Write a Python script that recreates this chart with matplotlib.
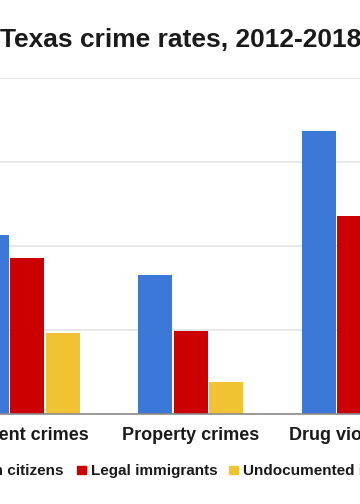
import numpy as np
import matplotlib
matplotlib.use("Agg")
import matplotlib.pyplot as plt
from matplotlib.patches import Rectangle

# -------------------------------------------------------
# DATA (rates)
# -------------------------------------------------------
categories = ["Violent crimes", "Property crimes", "Drug violations"]
series_names = ["Native-born citizens", "Legal immigrants", "Undocumented immigrants"]
citizens = [425, 330, 673]
legal = [370, 196, 470]
undocumented = [191, 76, 190]
colors = ["#3c78d8", "#cc0000", "#f1c232"]

plt.rcParams['font.family'] = ['Liberation Sans', 'DejaVu Sans']

fig = plt.figure(figsize=(3.6, 5.04), dpi=100)

# plot area runs past the edges: the picture is a crop of a wider chart
ax = fig.add_axes([0, 1 - 413.5 / 504, 1, 336 / 504])
ax.set_xlim(-27.2 / 163.5, (360 - 27.2) / 163.5)
ax.set_ylim(0, 800)

x = np.arange(len(categories))
pitch = 35.5 / 163.5
width = 34 / 163.5
for i, vals in enumerate([citizens, legal, undocumented]):
    ax.bar(x + (i - 1) * pitch, vals, width, color=colors[i], zorder=3)

ax.set_yticks([0, 200, 400, 600, 800])
ax.yaxis.grid(True, color="#e4e4e4", linewidth=1.2, zorder=0)
ax.tick_params(left=False, labelleft=False, bottom=False)
for s in ["top", "right", "left"]:
    ax.spines[s].set_visible(False)
ax.spines["bottom"].set_color("#8a8a8a")
ax.spines["bottom"].set_linewidth(1.2)
ax.spines["bottom"].set_zorder(4)

ax.set_xticks(x)
ax.set_xticklabels(categories, fontsize=13, fontweight="bold", color="#1a1a1a")
ax.tick_params(axis="x", pad=6)

# title
fig.text(0.0, 1 - 47 / 504, "Texas crime rates, 2012-2018", fontsize=19,
         fontweight="bold", color="#1a1a1a", ha="left", va="baseline")

# legend, laid out by hand like the chart's own
legend_y = 1 - 475 / 504
fig.text(63 / 360, legend_y, series_names[0], fontsize=11, fontweight="bold",
         color="#1a1a1a", ha="right", va="baseline")
for name, col, x0 in [(series_names[1], colors[1], 77.3), (series_names[2], colors[2], 229.3)]:
    fig.patches.append(Rectangle((x0 / 360, 1 - 474 / 504), 8.5 / 360, 8.5 / 504,
                                 transform=fig.transFigure, color=col))
    fig.text((x0 + 14) / 360, legend_y, name, fontsize=11, fontweight="bold",
             color="#1a1a1a", ha="left", va="baseline")

fig.savefig("out.png", dpi=100)
